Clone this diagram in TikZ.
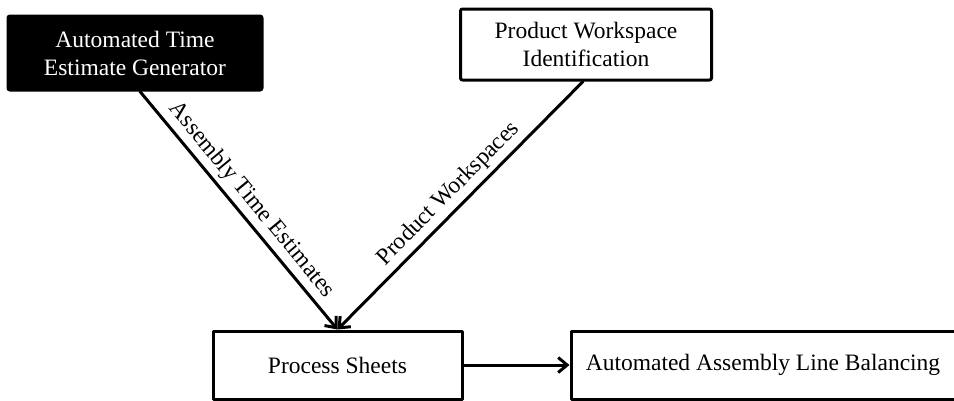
\documentclass[tikz,border=0pt]{standalone}
\usepackage{fontspec}
\setmainfont{Liberation Serif}
\usetikzlibrary{arrows.meta}
\begin{document}
\begin{tikzpicture}[x=1pt,y=-1pt,line cap=round,line join=round,>={Straight Barb[length=9pt,width=15pt]},
  font=\fontsize{23.5}{28}\selectfont,
  box/.style={draw,line width=3pt,align=center,inner sep=0pt},
  flow/.style={->,line width=3pt}]
\useasboundingbox (0,0) rectangle (954,400);
\node[box,fill=black,text=white,rounded corners=2pt,minimum width=254pt,minimum height=74pt] (gen) at (135,53) {Automated Time\\Estimate Generator};
\node[box,rounded corners=2pt,minimum width=251pt,minimum height=71pt] (pwi) at (586,44.5) {Product Workspace\\Identification};
\node[box,minimum width=249pt,minimum height=68pt] (ps) at (337.5,365) {Process Sheets};
\node[box,minimum width=384pt,minimum height=68pt] (alb) at (763,365) {Automated Assembly Line Balancing};
\draw[flow] ([xshift=5pt]gen.south) -- node[midway,sloped,above=1pt]{Assembly Time Estimates} (ps.north);
\draw[flow] ([xshift=-3pt]pwi.south) -- node[midway,sloped,above=1pt]{Product Workspaces} (ps.north);
\draw[flow] (ps.east) -- (alb.west);
\end{tikzpicture}
\end{document}
